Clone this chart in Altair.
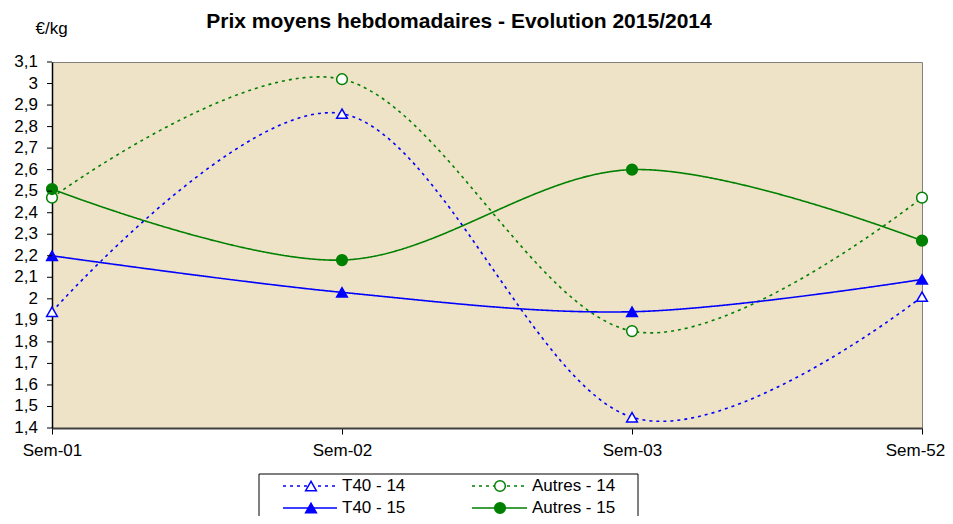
import altair as alt
import pandas as pd

title_text = "Prix moyens hebdomadaires - Evolution 2015/2014"
weeks = ["Sem-01", "Sem-02", "Sem-03", "Sem-52"]
series = ["T40 - 14", "Autres - 14", "T40 - 15", "Autres - 15"]
t40_14 = [1.94, 2.86, 1.45, 2.01]
autres_14 = [2.47, 3.02, 1.85, 2.47]
t40_15 = [2.20, 2.03, 1.94, 2.09]
autres_15 = [2.51, 2.18, 2.60, 2.27]
y_ticks = [1.4, 1.5, 1.6, 1.7, 1.8, 1.9, 2.0, 2.1, 2.2, 2.3, 2.4, 2.5,
           2.6, 2.7, 2.8, 2.9, 3.0, 3.1]

colors = ["#0000FF", "#008000", "#0000FF", "#008000"]
dashes = [[3, 4], [3, 4], [1, 0], [1, 0]]
shapes = ["triangle-up", "circle", "triangle-up", "circle"]
fills = ["#FFFFFF", "#FFFFFF", "#0000FF", "#008000"]

rows = []
for s, vals in zip(series, [t40_14, autres_14, t40_15, autres_15]):
    for w, v in zip(weeks, vals):
        rows.append({"series": s, "week": w, "value": v})
df = pd.DataFrame(rows)

FONT = "Liberation Sans"

x_axis = alt.Axis(title=None, labelAngle=0, labelFontSize=17, labelColor="black",
                  labelFont=FONT, tickColor="black", tickSize=6,
                  domainColor="#404040", domainWidth=2, labelPadding=8,
                  labelOverlap=False, labelBound=False, labelFlush=False,
                  labelOffset={"condition": {"test": "datum.value === 'Sem-52'", "value": -7},
                               "value": 0},
                  grid=False)
y_axis = alt.Axis(labels=False, ticks=False, title="€/kg", titleAngle=0, titleAlign="left",
                  titleBaseline="alphabetic", titleX=-17, titleY=-29,
                  titleFontSize=17, titleFontWeight="normal", titleFont=FONT,
                  titleColor="black", domainColor="black", domainWidth=1.5, grid=False)
y_scale = alt.Scale(domain=[1.4, 3.1], nice=False, zero=False)

x_enc = alt.X("week:N", sort=weeks, scale=alt.Scale(type="point", padding=0), axis=x_axis)
y_enc = alt.Y("value:Q", scale=y_scale, axis=y_axis)

lines = alt.Chart(df).mark_line(interpolate="cardinal", strokeWidth=1.6).encode(
    x=x_enc, y=y_enc,
    color=alt.Color("series:N", scale=alt.Scale(domain=series, range=colors), legend=None),
    strokeDash=alt.StrokeDash("series:N", scale=alt.Scale(domain=series, range=dashes), legend=None),
)

points = alt.Chart(df).mark_point(size=115, opacity=1, strokeWidth=1.5).encode(
    x=x_enc, y=y_enc,
    shape=alt.Shape("series:N", scale=alt.Scale(domain=series, range=shapes), legend=None),
    fill=alt.Fill("series:N", scale=alt.Scale(domain=series, range=fills), legend=None),
    stroke=alt.Stroke("series:N", scale=alt.Scale(domain=series, range=colors), legend=None),
)

# y ticks and labels (every 0.1, with decimal comma)
tick_df = pd.DataFrame({"v": y_ticks})
y_tick_enc = alt.Y("v:Q", scale=y_scale, axis=y_axis)
y_tick_marks = alt.Chart(tick_df).mark_rule(color="black", strokeWidth=1).encode(
    y=y_tick_enc, x=alt.value(-5), x2=alt.value(0))
y_tick_labels = alt.Chart(tick_df).transform_calculate(
    lab="replace(format(datum.v, '.2~g'), '.', ',')"
).mark_text(align="right", baseline="middle", fontSize=17, font=FONT, color="black").encode(
    y=y_tick_enc, x=alt.value(-14), text="lab:N")

title = alt.Chart(pd.DataFrame({"t": [title_text]})).mark_text(
    fontSize=21, fontWeight="bold", font=FONT, color="black",
    align="center", baseline="alphabetic").encode(
    text="t:N", x=alt.value(407), y=alt.value(-34))

# legend box and entries
legend_df = pd.DataFrame({"series": series})
box = alt.Chart(pd.DataFrame({"k": [0]})).mark_rect(
    fill="white", stroke="black", strokeWidth=1).encode(
    x=alt.value(207), x2=alt.value(586), y=alt.value(412), y2=alt.value(480))

legend_layers = [box]
entry_pos = [(231, 285, 259, 290, 424), (420, 475, 448, 480, 424),
             (231, 285, 259, 290, 446), (420, 475, 448, 480, 446)]
for i, s in enumerate(series):
    x1, x2, cx, tx, yy = entry_pos[i]
    base = alt.Chart(legend_df).transform_filter(alt.datum.series == s)
    legend_layers.append(base.mark_rule(color=colors[i], strokeDash=dashes[i], strokeWidth=1.6).encode(
        x=alt.value(x1), x2=alt.value(x2), y=alt.value(yy)))
    legend_layers.append(base.mark_point(shape=shapes[i], fill=fills[i], stroke=colors[i],
                                         size=115, opacity=1, strokeWidth=1.5).encode(
        x=alt.value(cx), y=alt.value(yy)))
    legend_layers.append(base.mark_text(align="left", baseline="middle", fontSize=17,
                                        font=FONT, color="black").encode(
        x=alt.value(tx), y=alt.value(yy), text="series:N"))

chart = alt.layer(lines, points, y_tick_marks, y_tick_labels, title, *legend_layers).properties(
    width=870, height=366,
    autosize=alt.AutoSizeParams(type="none"),
    padding={"left": 44, "top": 54, "right": 23, "bottom": 88},
).configure_view(fill="#EFE3C7", stroke="#808080", strokeWidth=1)

chart.save("out.html", embed_options={"renderer": "svg", "actions": False})
